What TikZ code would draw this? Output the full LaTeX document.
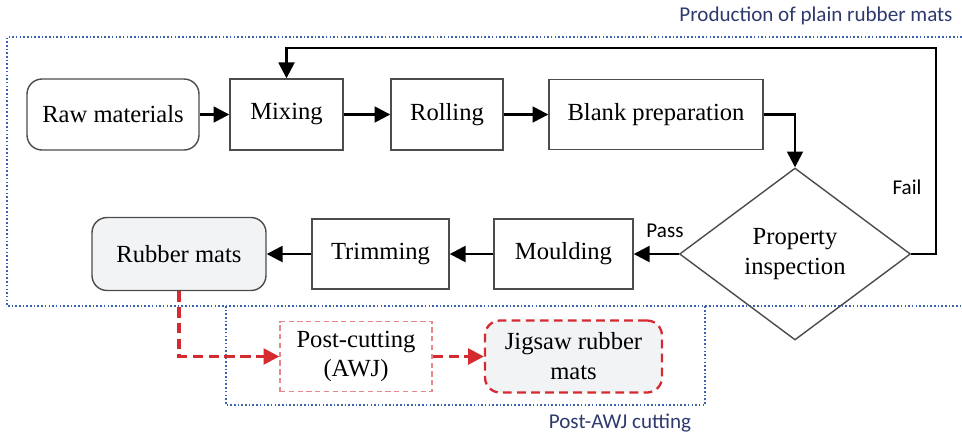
\documentclass[tikz,border=0pt]{standalone}
\usepackage{fontspec}
\setmainfont{Liberation Serif}
\newfontfamily\labelfont{Carlito}
\usetikzlibrary{arrows.meta}
\usetikzlibrary{shapes.geometric}
\definecolor{regionblue}{HTML}{3A62AE}
\definecolor{titleblue}{HTML}{2E3A6E}
\definecolor{cutred}{HTML}{D42A30}
\definecolor{lightred}{HTML}{E8868B}
\definecolor{matgray}{HTML}{F2F3F5}
\tikzset{proc/.style = {draw=black!70, line width=0.8pt, inner sep=0pt,
                        minimum height=1.42cm, font=\fontsize{14}{17}\selectfont,
                        align=center}}
\tikzset{start/.style = {proc, rounded corners=0.3cm}}
\tikzset{product/.style = {proc, rounded corners=0.3cm, fill=matgray}}
\tikzset{decision/.style = {proc, diamond, aspect=1.34, minimum width=4.62cm,
                            minimum height=3.44cm}}
\tikzset{flow/.style = {line width=1.4pt, -{Triangle[length=9pt, width=9pt]}}}
\tikzset{cutflow/.style = {cutred, line width=1.8pt, dash pattern=on 6pt off 3pt,
                           -{Triangle[length=9pt, width=9pt]}}}
\tikzset{region/.style = {regionblue, line width=0.9pt, dash pattern=on 0.9pt off 1.2pt}}
\tikzset{caption/.style = {text=titleblue, font=\labelfont\fontsize{12}{14}\selectfont}}
\tikzset{branch/.style = {font=\labelfont\fontsize{12}{14}\selectfont}}

\begin{document}
\begin{tikzpicture}[x=0.02cm, y=-0.02cm]
      \useasboundingbox (0, 0) rectangle (962, 437);

      \draw [region] (962, 37) -- (7, 37) -- (7, 306) -- (962, 306);
      \draw [region] (226, 306) rectangle (705, 405);
      \node [caption] (maintitle) at (816, 16) {Production of plain rubber mats};
      \node [caption] (posttitle) at (620, 423) {Post-AWJ cutting};

      \node [start, minimum width=3.44cm] (raw) at (113, 114.5) {Raw materials};
      \node [proc, minimum width=2.26cm] (mixing) at (286.5, 114.5) {Mixing};
      \node [proc, minimum width=2.24cm] (rolling) at (447, 114.5) {Rolling};
      \node [proc, minimum width=4.28cm, minimum height=1.4cm] (blank) at (656, 114.5) {Blank preparation};
      \node [decision] (inspect) at (795, 254) {Property\\inspection};
      \node [proc, minimum width=2.78cm, minimum height=1.4cm] (moulding) at (563.5, 254) {Moulding};
      \node [proc, minimum width=2.74cm, minimum height=1.4cm] (trimming) at (380.5, 254) {Trimming};
      \node [product, minimum width=3.48cm, minimum height=1.46cm] (mats) at (179, 254) {Rubber mats};

      \node [proc, draw=lightred, dash pattern=on 3pt off 2pt, minimum width=3.04cm,
             minimum height=1.4cm] (postcut) at (356, 356.5) {Post-cutting\\(AWJ)};
      \node [product, draw=cutred, line width=1.3pt, dash pattern=on 5pt off 3pt,
             minimum width=3.54cm, minimum height=1.44cm] (jigsaw) at (573.5, 356.5) {Jigsaw rubber\\mats};

      \coordinate (failturn) at (936, 48);

      \draw [flow] (raw) -- (mixing);
      \draw [flow] (mixing) -- (rolling);
      \draw [flow] (rolling) -- (blank);
      \draw [flow] (blank.east) -| (inspect.north);
      \draw [flow] (inspect.east) -| (failturn) -| (mixing.north);
      \draw [flow] (inspect.west) -- (moulding.east);
      \draw [flow] (moulding) -- (trimming);
      \draw [flow] (trimming) -- (mats);

      \node [branch] (fail) at (907, 187) {Fail};
      \node [branch] (pass) at (665, 231) {Pass};

      \draw [cutflow] (mats.south) |- (postcut.west);
      \draw [cutflow] (postcut) -- (jigsaw);
    \end{tikzpicture}
\end{document}
